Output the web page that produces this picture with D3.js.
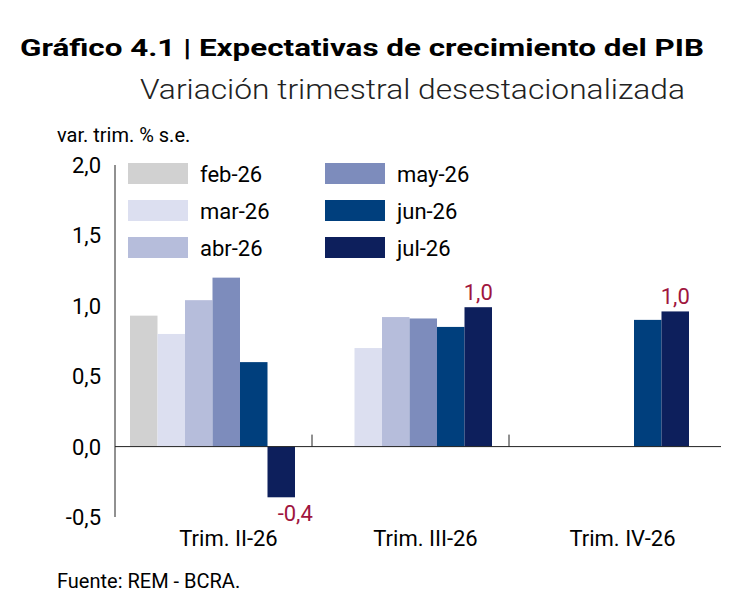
<!DOCTYPE html>
<html><head><meta charset="utf-8">
<script src="https://cdn.jsdelivr.net/npm/d3@7"></script>
<style>body{margin:0;background:#fff;font-family:Roboto,sans-serif;}</style>
</head><body>
<svg id="c" width="730" height="615"></svg>
<script>
var groups = ["Trim. II-26", "Trim. III-26", "Trim. IV-26"];
var series = ["feb-26", "mar-26", "abr-26", "may-26", "jun-26", "jul-26"];
var colors = ["#d1d1d1", "#dcdff0", "#b6bddb", "#7d8cbc", "#003f7d", "#0d1f5c"];
// null = no forecast for that quarter
var values = [
  [0.93, 0.80, 1.04, 1.20, 0.60, -0.36],
  [null, 0.70, 0.92, 0.91, 0.85, 0.99],
  [null, null, null, null, 0.90, 0.96]
];
var yTicks = [-0.5, 0, 0.5, 1, 1.5, 2];

var svg = d3.select("#c");
var fmt = function(v){ return d3.format(".1f")(v).replace(".", ",").replace("−", "-"); };

var y = d3.scaleLinear().domain([-0.5, 2]).range([517, 165]);
var x0 = d3.scaleBand().domain(groups).range([130, 721]);
var x1 = d3.scaleBand().domain(series).range([0, 165]);

svg.append("text").attr("x", 20).attr("y", 56).attr("font-size", 24).attr("font-weight", "bold")
  .attr("textLength", 684).attr("lengthAdjust", "spacingAndGlyphs")
  .text("Gráfico 4.1 | Expectativas de crecimiento del PIB");
svg.append("text").attr("x", 140).attr("y", 99).attr("font-size", 28).attr("font-weight", 300)
  .attr("textLength", 545).attr("lengthAdjust", "spacingAndGlyphs")
  .attr("fill", "#222").text("Variación trimestral desestacionalizada");
svg.append("text").attr("x", 57).attr("y", 142).attr("font-size", 20).text("var. trim. % s.e.");
svg.append("text").attr("x", 57).attr("y", 588).attr("font-size", 20).text("Fuente: REM - BCRA.");

// y axis
svg.append("line").attr("x1", 115).attr("x2", 115).attr("y1", 165).attr("y2", 517).attr("stroke", "#222");
svg.selectAll(".yt").data(yTicks).enter().append("text")
  .attr("x", 101).attr("y", function(d){ return y(d) + 8; })
  .attr("text-anchor", "end").attr("font-size", 22).text(fmt);

// bars
var g = svg.selectAll(".grp").data(groups).enter().append("g")
  .attr("transform", function(d){ return "translate(" + x0(d) + ",0)"; });
g.selectAll("rect").data(function(d, i){
    return series.map(function(s, j){ return {s: s, v: values[i][j], c: colors[j]}; })
      .filter(function(e){ return e.v !== null; });
  }).enter().append("rect")
  .attr("x", function(d){ return x1(d.s); })
  .attr("width", x1.bandwidth())
  .attr("y", function(d){ return y(Math.max(0, d.v)); })
  .attr("height", function(d){ return Math.abs(y(d.v) - y(0)); })
  .attr("fill", function(d){ return d.c; });

// zero axis
svg.append("line").attr("x1", 115).attr("x2", 721).attr("y1", y(0)).attr("y2", y(0)).attr("stroke", "#222");
groups.slice(1).forEach(function(gr){
  svg.append("line").attr("x1", x0(gr) - 15).attr("x2", x0(gr) - 15)
    .attr("y1", y(0) - 12).attr("y2", y(0)).attr("stroke", "#222");
});
svg.selectAll(".xl").data(groups).enter().append("text")
  .attr("x", function(d){ return x0(d) + x0.bandwidth() / 2; }).attr("y", 546)
  .attr("text-anchor", "middle").attr("font-size", 22).text(function(d){ return d; });

// labels for jul-26
values.forEach(function(row, i){
  var v = row[5];
  var cx = x0(groups[i]) + x1("jul-26") + x1.bandwidth() / 2;
  svg.append("text").attr("x", cx + (v < 0 ? 14 : 0))
    .attr("y", v < 0 ? y(v) + 24 : y(v) - 7)
    .attr("text-anchor", "middle").attr("font-size", 22).attr("fill", "#a0153e").text(fmt(v));
});

// legend
series.forEach(function(s, i){
  var col = Math.floor(i / 3), row = i % 3;
  var lx = 128 + col * 197, ly = 163 + row * 37;
  svg.append("rect").attr("x", lx).attr("y", ly).attr("width", 60).attr("height", 21).attr("fill", colors[i]);
  svg.append("text").attr("x", lx + 72).attr("y", ly + 19).attr("font-size", 22).text(s);
});
</script>
</body></html>
